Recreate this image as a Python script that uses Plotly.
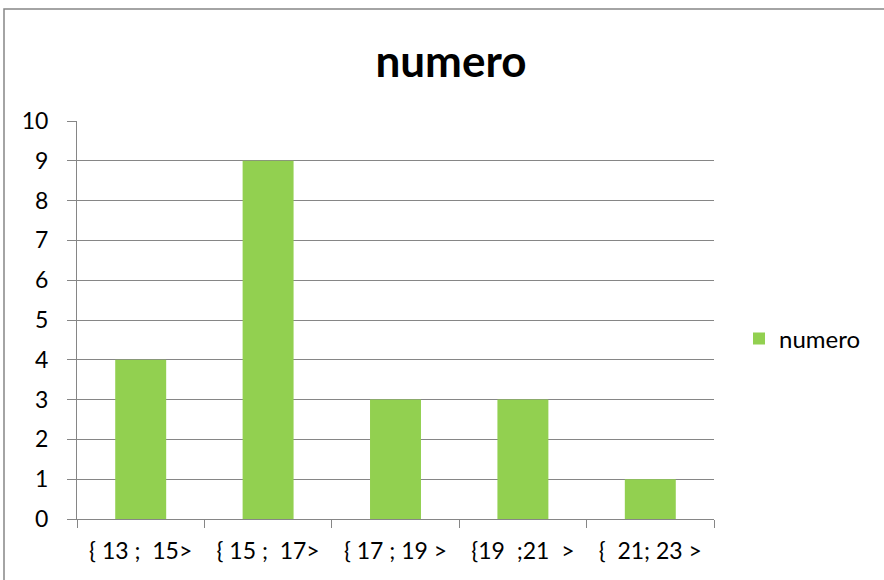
import plotly.graph_objects as go

categories = ["{ 13 ;  15>", "{ 15 ;  17>", "{ 17 ; 19 >", "{19  ;21  >", "{  21; 23 >"]
numero = [4, 9, 3, 3, 1]

W, H = 884, 580
L, R, T, B = 77, 170, 121, 61
pw, ph = W - L - R, H - T - B

fig = go.Figure()
fig.add_trace(go.Bar(
    x=categories,
    y=numero,
    name="numero",
    marker=dict(color="#92D050", line=dict(width=0)),
    width=0.4,
    showlegend=True,
))

grey = "#868686"
fig.update_layout(
    width=W, height=H,
    margin=dict(l=L, r=R, t=T, b=B),
    paper_bgcolor="white",
    plot_bgcolor="white",
    font=dict(family="Lato, Calibri, sans-serif", size=23, color="black"),
    title=dict(text="<b>numero</b>", x=451 / W, xanchor="center",
               y=1 - 62 / H, yanchor="middle", yref="container",
               font=dict(size=44, color="black")),
    legend=dict(x=(739 - L) / pw, xanchor="left", y=(H - B - 339) / ph, yanchor="middle",
                font=dict(size=24), bgcolor="rgba(0,0,0,0)"),
)
fig.update_xaxes(
    type="category",
    tickson="boundaries",
    ticks="outside", ticklen=8, tickcolor=grey,
    showline=True, linecolor=grey, linewidth=1,
    showgrid=False,
    tickfont=dict(size=23),
    ticklabelstandoff=11,
)
fig.update_yaxes(
    range=[0, 10], dtick=1,
    ticks="outside", ticklen=9, tickcolor=grey,
    showline=True, linecolor=grey, linewidth=1,
    showgrid=True, gridcolor=grey, gridwidth=1,
    zeroline=False,
    tickfont=dict(size=23),
    ticklabelstandoff=14,
)

# outer chart border
fig.add_shape(type="rect", xref="paper", yref="paper",
              x0=(4 - L) / pw, x1=(W + 5 - L) / pw,
              y0=-(B + 5) / ph, y1=(H - B - 9) / ph,
              line=dict(color=grey, width=1.5), layer="below")

fig.write_html("out.html", config={"displayModeBar": False},
               post_script="document.body.style.margin='0';")
